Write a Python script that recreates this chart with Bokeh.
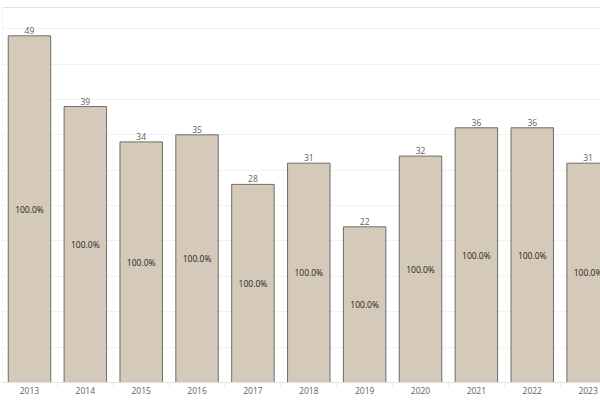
from bokeh.plotting import figure
from bokeh.models import ColumnDataSource, Range1d, FixedTicker, LinearAxis, Span
from bokeh.core.properties import value
from bokeh.embed import file_html
from bokeh.resources import INLINE

years = ["2013", "2014", "2015", "2016", "2017", "2018", "2019", "2020", "2021", "2022", "2023"]
counts = [49, 39, 34, 35, 28, 31, 22, 32, 36, 36, 31]
pct_labels = ["100.0%"] * len(years)

FONT = "Open Sans"
idx = list(range(len(years)))
src = ColumnDataSource(dict(
    x=idx,
    top=counts,
    mid=[c / 2 for c in counts],
    cnt=[str(c) for c in counts],
    pct=pct_labels,
))

XSTART, XEND = -0.483, 10.222
p = figure(width=600, height=400, output_backend="svg", toolbar_location=None,
           x_range=Range1d(XSTART, XEND), y_range=Range1d(0, 53),
           min_border_left=2, min_border_right=0, min_border_top=7, min_border_bottom=18)
p.outline_line_color = None
p.background_fill_color = "white"
p.border_fill_color = "white"

p.vbar(x="x", top="top", width=0.76, bottom=0, source=src,
       fill_color="#d5cab9", line_color="#6f6b67", line_width=1)

p.text(x="x", y="top", text="cnt", source=src, text_align="center",
       text_baseline="bottom", y_offset=-2, text_font_size="8.5px",
       text_color="#606060", text_font=value(FONT))
p.text(x="x", y="mid", text="pct", source=src, text_align="center",
       text_baseline="middle", text_font_size="8.5px",
       text_color="#222222", text_font=value(FONT))

# x axis
xa = p.xaxis[0]
xa.ticker = FixedTicker(ticks=idx, minor_ticks=[i + 0.5 for i in idx[:-1]])
xa.major_label_overrides = {i: y for i, y in zip(idx, years)}
xa.major_tick_line_color = None
xa.major_tick_out = 0
xa.minor_tick_line_color = "#ececec"
xa.minor_tick_out = 4
xa.minor_tick_in = 0
xa.axis_line_color = "#e0e0e0"
xa.major_label_text_font = FONT
xa.major_label_text_font_size = "8.5px"
xa.major_label_text_color = "#606060"
xa.major_label_standoff = 0
p.xgrid.grid_line_color = None

# y axis hidden; grid only
p.yaxis.visible = False
p.ygrid.ticker = FixedTicker(ticks=[5, 10, 15, 20, 25, 30, 35, 40, 45, 50])
p.ygrid.grid_line_color = "#f2f2f2"

p.add_layout(Span(location=XSTART, dimension="height", line_color="#eeeeee", line_width=1))

top_axis = LinearAxis(major_label_text_font_size="0px", major_tick_line_color=None,
                      minor_tick_line_color=None, axis_line_color="#e2e2e2",
                      major_label_standoff=0, major_tick_out=0, ticker=FixedTicker(ticks=[]))
p.add_layout(top_axis, "above")

open("out.html", "w").write(file_html(p, INLINE))
